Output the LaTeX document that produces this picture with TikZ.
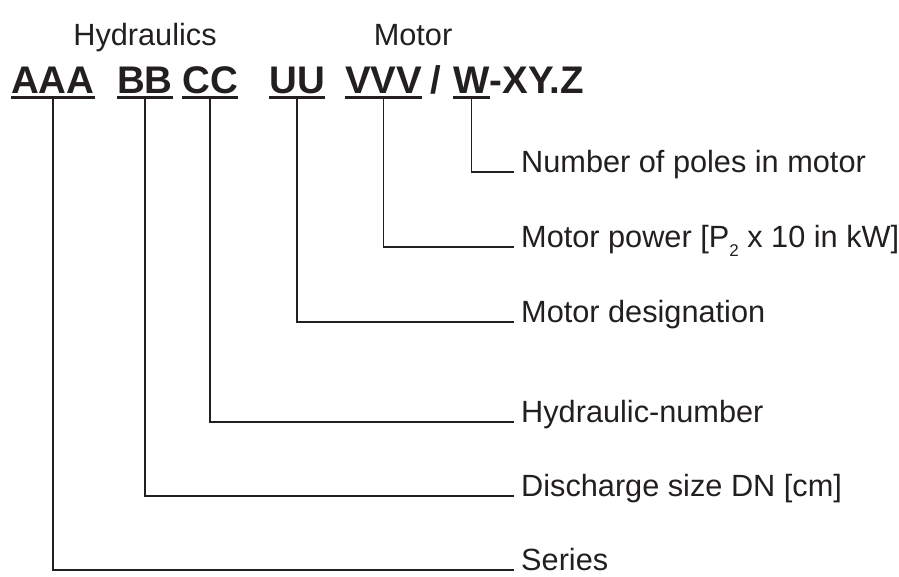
\documentclass[tikz,border=0pt]{standalone}
\usepackage{fontspec}
\setmainfont{Liberation Sans}
\definecolor{ink}{HTML}{231F20}
\begin{document}
\begin{tikzpicture}[x=1pt,y=-1pt,
  code/.style={font=\fontsize{38.5}{40}\selectfont\bfseries, inner sep=0pt, anchor=base west, text=ink},
  lbl/.style={font=\fontsize{30.7}{36}\selectfont, inner sep=0pt, anchor=base west, text=ink},
  head/.style={font=\fontsize{30.7}{36}\selectfont, inner sep=0pt, anchor=base, text=ink},
  ul/.style={line width=3.6pt, draw=ink},
  conn/.style={line width=1.4pt, draw=ink}]
\useasboundingbox (0,0) rectangle (899,576);
% headings
\node[head] (hyd) at (145,45) {Hydraulics};
\node[head] (mot) at (413,45) {Motor};
% code groups
\node[code] (A) at (11,93.3) {AAA};
\node[code] (B) at (117,93.3) {BB};
\node[code] (C) at (182,93.3) {CC};
\node[code] (U) at (269,93.3) {UU};
\node[code] (V) at (345,93.3) {VVV};
\node[code] (sl) at (430,93.3) {/};
\node[code] (W) at (453,93.3) {W};
\node[code] (rest) at (W.base east) {-XY.Z};
% underlines
\foreach \n in {A,B,C,U,V,W}{
  \draw[ul] ([yshift=-4pt]\n.base west) -- ([yshift=-4pt]\n.base east);
  \coordinate (\n u) at ([yshift=-5.5pt]\n.base);
}
% labels
\node[lbl] (Lw) at (521,172) {Number of poles in motor};
\node[lbl] (Lv) at (521,247) {Motor power [P\raisebox{-9pt}{\fontsize{17}{17}\selectfont 2} x 10 in kW]};
\node[lbl] (Lu) at (521,322) {Motor designation};
\node[lbl] (Lc) at (521,422) {Hydraulic-number};
\node[lbl] (Lb) at (521,496) {Discharge size DN [cm]};
\node[lbl] (La) at (521,570) {Series};
% connectors
\draw[conn] (Wu) |- ([xshift=-7pt]Lw.base west);
\draw[conn] (Vu) |- ([xshift=-7pt]Lv.base west);
\draw[conn] (Uu) |- ([xshift=-7pt]Lu.base west);
\draw[conn] (Cu) |- ([xshift=-7pt]Lc.base west);
\draw[conn] (Bu) |- ([xshift=-7pt]Lb.base west);
\draw[conn] (Au) |- ([xshift=-7pt]La.base west);
\end{tikzpicture}
\end{document}
